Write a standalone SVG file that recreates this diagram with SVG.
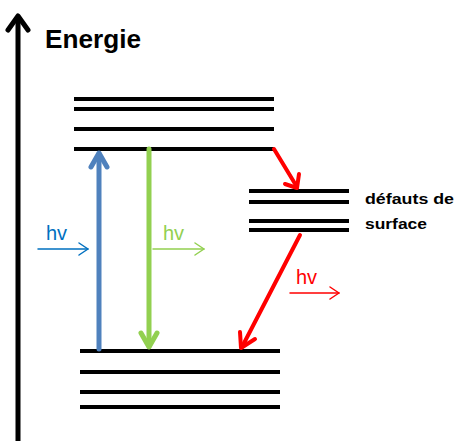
<svg xmlns="http://www.w3.org/2000/svg" width="458" height="441" viewBox="0 0 458 441">
<style>
.lvl{stroke:#000;stroke-width:4}
.lbl{font-family:"Liberation Sans",Arial,sans-serif}
</style>
<rect width="458" height="441" fill="#fff"/>
<g id="axis">
<line x1="18" y1="441" x2="18" y2="16" stroke="#000" stroke-width="5"/>
<polyline points="8,30 18,16 28,30" fill="none" stroke="#000" stroke-width="5" stroke-linecap="round" stroke-linejoin="round"/>
<text class="lbl" x="45" y="48" font-size="25" font-weight="bold" textLength="96" lengthAdjust="spacingAndGlyphs">Energie</text>
</g>
<g id="upper-levels">
<line class="lvl" x1="74" y1="99" x2="274" y2="99"/>
<line class="lvl" x1="74" y1="109" x2="274" y2="109"/>
<line class="lvl" x1="74" y1="129" x2="274" y2="129"/>
<line class="lvl" x1="74" y1="149" x2="274" y2="149"/>
</g>
<g id="lower-levels">
<line class="lvl" x1="80" y1="351" x2="280" y2="351"/>
<line class="lvl" x1="80" y1="372" x2="280" y2="372"/>
<line class="lvl" x1="80" y1="392" x2="280" y2="392"/>
<line class="lvl" x1="80" y1="407" x2="280" y2="407"/>
</g>
<g id="defect-levels">
<line class="lvl" x1="249" y1="191" x2="349" y2="191"/>
<line class="lvl" x1="249" y1="202" x2="349" y2="202"/>
<line class="lvl" x1="249" y1="221" x2="349" y2="221"/>
<line class="lvl" x1="249" y1="230" x2="349" y2="230"/>
<text class="lbl" x="365" y="204" font-size="15" font-weight="bold" textLength="89" lengthAdjust="spacingAndGlyphs">défauts de</text>
<text class="lbl" x="365" y="229" font-size="15" font-weight="bold" textLength="62" lengthAdjust="spacingAndGlyphs">surface</text>
</g>
<g id="connectors" fill="none" stroke-linecap="round" stroke-linejoin="round">
<line x1="99" y1="349" x2="99" y2="154" stroke="#4F81BD" stroke-width="5"/>
<polyline points="91,167 99,153 107,167" stroke="#4F81BD" stroke-width="5"/>
<line x1="149" y1="149" x2="149" y2="346" stroke="#92D050" stroke-width="5"/>
<polyline points="141,333 149,347 157,333" stroke="#92D050" stroke-width="5"/>
<polyline points="274,149 297,187" stroke="#FF0000" stroke-width="4"/>
<polyline points="285,184 297,188 299,174" stroke="#FF0000" stroke-width="4"/>
<line x1="300" y1="235" x2="242" y2="347" stroke="#FF0000" stroke-width="4"/>
<polyline points="240,332 241,348 255,339" stroke="#FF0000" stroke-width="4"/>
<line x1="38" y1="249" x2="88" y2="249" stroke="#0070C0" stroke-width="1.5"/>
<polyline points="79,243 88,249 79,255" stroke="#0070C0" stroke-width="1.5"/>
<line x1="153" y1="249" x2="204" y2="249" stroke="#92D050" stroke-width="1.5"/>
<polyline points="195,243 204,249 195,255" stroke="#92D050" stroke-width="1.5"/>
<line x1="290" y1="293" x2="339" y2="293" stroke="#FF0000" stroke-width="1.5"/>
<polyline points="330,287 339,293 330,299" stroke="#FF0000" stroke-width="1.5"/>
</g>
<g id="labels">
<text class="lbl" x="46" y="240" font-size="20" fill="#0070C0">hv</text>
<text class="lbl" x="163" y="240" font-size="20" fill="#92D050">hv</text>
<text class="lbl" x="296" y="284" font-size="20" fill="#FF0000">hv</text>
</g>
</svg>
